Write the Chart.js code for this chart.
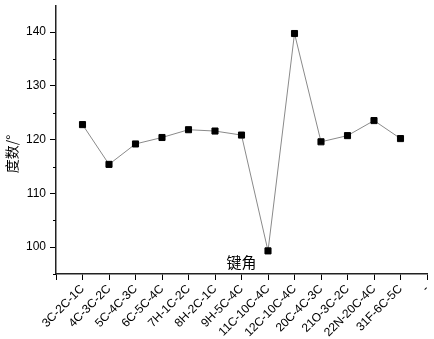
<!DOCTYPE html>
<html>
<head>
<meta charset="utf-8">
<script src="https://cdn.jsdelivr.net/npm/chart.js@4"></script>
<style>
  html, body { margin: 0; padding: 0; background: #fff; }
  #wrap { width: 434px; height: 339px; position: relative; }
</style>
</head>
<body>
<div id="wrap"><canvas id="chart"></canvas></div>
<script>
// bond angles, one per bond (first and last slots are axis padding)
const categories = ['', '3C-2C-1C', '4C-3C-2C', '5C-4C-3C', '6C-5C-4C', '7H-1C-2C', '8H-2C-1C',
  '9H-5C-4C', '11C-10C-4C', '12C-10C-4C', '20C-4C-3C', '21O-3C-2C', '22N-20C-4C', '31F-6C-5C', '-'];
const angles = [null, 122.8, 115.4, 119.2, 120.4, 121.85, 121.6,
  120.85, 99.3, 139.75, 119.6, 120.75, 123.55, 120.2, null];
const yTicks = [100, 110, 120, 130, 140];
const yMinorTicks = [95, 105, 115, 125, 135];
const xTitle = '键角';
const yTitle = '度数/°';

// -----------------------
// minor ticks + titles
// -----------------------
const extras = {
  id: 'extras',
  afterDraw(chart) {
    const { ctx, chartArea, scales: { y } } = chart;
    ctx.save();
    ctx.strokeStyle = '#000';
    ctx.lineWidth = 1;
    yMinorTicks.forEach(v => {
      const py = Math.round(y.getPixelForValue(v)) + 0.5;
      ctx.beginPath();
      ctx.moveTo(chartArea.left - 3, py);
      ctx.lineTo(chartArea.left, py);
      ctx.stroke();
    });
    ctx.fillStyle = '#000';
    ctx.textAlign = 'center';
    ctx.textBaseline = 'middle';
    ctx.font = '15px "Noto Sans CJK SC"';
    ctx.fillText(xTitle, (chartArea.left + chartArea.right) / 2, chartArea.bottom - 12);
    ctx.font = '14px "Noto Sans CJK SC"';
    ctx.translate(12, 154);
    ctx.rotate(-Math.PI / 2);
    ctx.fillText(yTitle, 0, 0);
    ctx.restore();
  }
};

new Chart(document.getElementById('chart'), {
  type: 'line',
  data: {
    labels: categories,
    datasets: [{
      data: angles,
      borderColor: '#8a8a8a',
      borderWidth: 1,
      tension: 0,
      pointStyle: 'rect',
      pointRadius: 4.3,
      pointBackgroundColor: '#000',
      pointBorderColor: '#000',
      pointBorderWidth: 1
    }]
  },
  options: {
    responsive: true,
    maintainAspectRatio: false,
    animation: false,
    layout: { padding: { top: 3, right: 7, left: 0, bottom: 0 } },
    plugins: { legend: { display: false }, tooltip: { enabled: false } },
    scales: {
      x: {
        type: 'category',
        offset: false,
        border: { color: '#222', width: 1.5 },
        grid: { drawOnChartArea: false, offset: false, tickLength: 6, tickColor: '#000', tickWidth: 1 },
        ticks: {
          autoSkip: false, maxRotation: 45, minRotation: 45, padding: 2,
          color: '#000', font: { family: '"Liberation Sans", Arial', size: 12 }
        },
        afterFit(scale) {
          scale.height = 65;
          scale.paddingLeft = 0;
          scale.paddingRight = 0;
        }
      },
      y: {
        min: 95,
        max: 145,
        border: { color: '#222', width: 1.5 },
        grid: { drawOnChartArea: false, tickLength: 6, tickColor: '#000', tickWidth: 1 },
        ticks: { padding: 4, color: '#000', font: { family: '"Liberation Sans", Arial', size: 12 } },
        afterBuildTicks(scale) {
          scale.ticks = yTicks.map(v => ({ value: v }));
        },
        afterFit(scale) {
          scale.width = 56;
          scale.paddingTop = 0;
          scale.paddingBottom = 0;
        }
      }
    }
  },
  plugins: [extras]
});
</script>
</body>
</html>
